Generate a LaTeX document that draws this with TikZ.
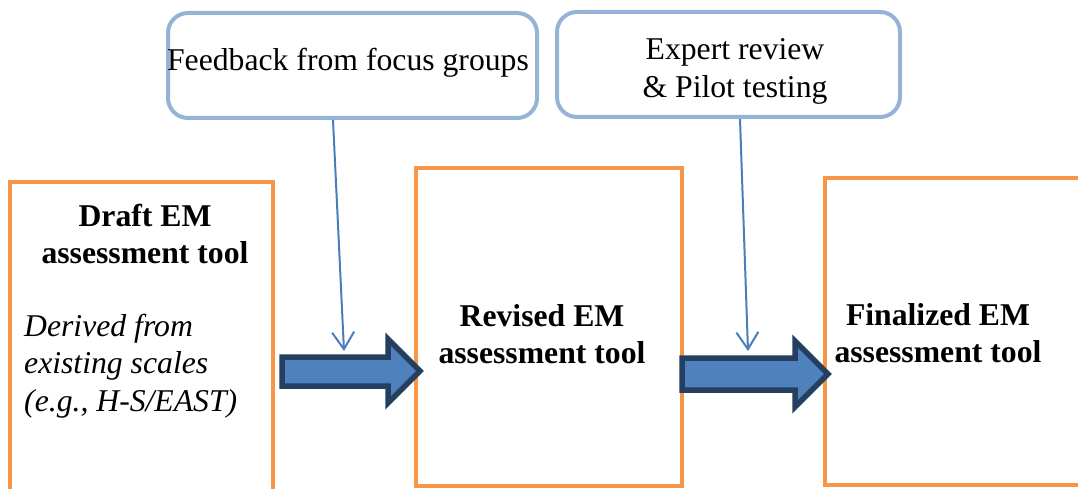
\documentclass[tikz,border=0pt]{standalone}
\usepackage{fontspec}
\setmainfont{Liberation Serif}
\usetikzlibrary{arrows.meta}
\definecolor{boxorange}{HTML}{F79646}
\definecolor{calloutblue}{HTML}{95B3D7}
\definecolor{arrowfill}{HTML}{4F81BD}
\definecolor{arrowline}{HTML}{243F60}
\definecolor{thinblue}{HTML}{4A7EBB}
\begin{document}
\begin{tikzpicture}[x=1pt,y=-1pt,
  stagebox/.style={draw=boxorange, line width=4pt, rectangle, inner sep=0pt},
  callout/.style={draw=calloutblue, line width=4pt, rectangle, rounded corners=20pt, inner sep=0pt, fill=white},
  txt/.style={inner sep=0pt, font=\fontsize{31.7}{37.5}\selectfont},
  btxt/.style={txt, font=\fontsize{31.7}{37}\selectfont\bfseries, align=center},
  blockarrow/.style={fill=arrowfill, draw=arrowline, line width=5.5pt, miter limit=10},
  thinarrow/.style={draw=thinblue, line width=2pt, -{Straight Barb[length=17pt,width=22pt,line width=2pt]}}
]
\useasboundingbox (0,0) rectangle (1078,489);
\clip (0,0) rectangle (1078,489);
% stage boxes
\node[stagebox, minimum width=263pt, minimum height=320pt] (draft) at (141.5,342) {};
\node[stagebox, minimum width=266pt, minimum height=318pt] (revised) at (549,327) {};
\node[stagebox, minimum width=262pt, minimum height=307pt] (final) at (956,331.5) {};
% callouts
\node[callout, minimum width=369pt, minimum height=105pt] (fb) at (352.5,65.5) {};
\node[callout, minimum width=343pt, minimum height=105pt] (er) at (728.5,64.5) {};
\node[txt] (fbtext) at (348,63) {Feedback from focus groups};
\node[txt, align=center] (ertext) at (735,71.5) {Expert review\\\& Pilot testing};
% box texts
\node[btxt] (drafttitle) at (145,234) {Draft EM\\assessment tool};
\node[txt, anchor=west, align=left, font=\fontsize{31.7}{37.5}\selectfont\itshape] (draftnote) at (24,366) {Derived from\\existing scales\\(e.g., H-S/EAST)};
\node[btxt] (revtitle) at (542,334) {Revised EM\\assessment tool};
\node[btxt] (fintitle) at (938,333) {Finalized EM\\assessment tool};
% block arrows
\draw[blockarrow] (282,357) -- (388,357) -- (388,339) -- (420,371) -- (388,403) -- (388,386) -- (282,386) -- cycle;
\draw[blockarrow] (682,358) -- (795,358) -- (795,341) -- (828,374) -- (795,407) -- (795,390) -- (682,390) -- cycle;
% thin arrows
\coordinate (fbend) at (344,351);
\coordinate (erend) at (748,351);
\draw[thinarrow] (fb.south -| 333,0) -- (fbend);
\draw[thinarrow] (er.south -| 740,0) -- (erend);
\end{tikzpicture}
\end{document}
